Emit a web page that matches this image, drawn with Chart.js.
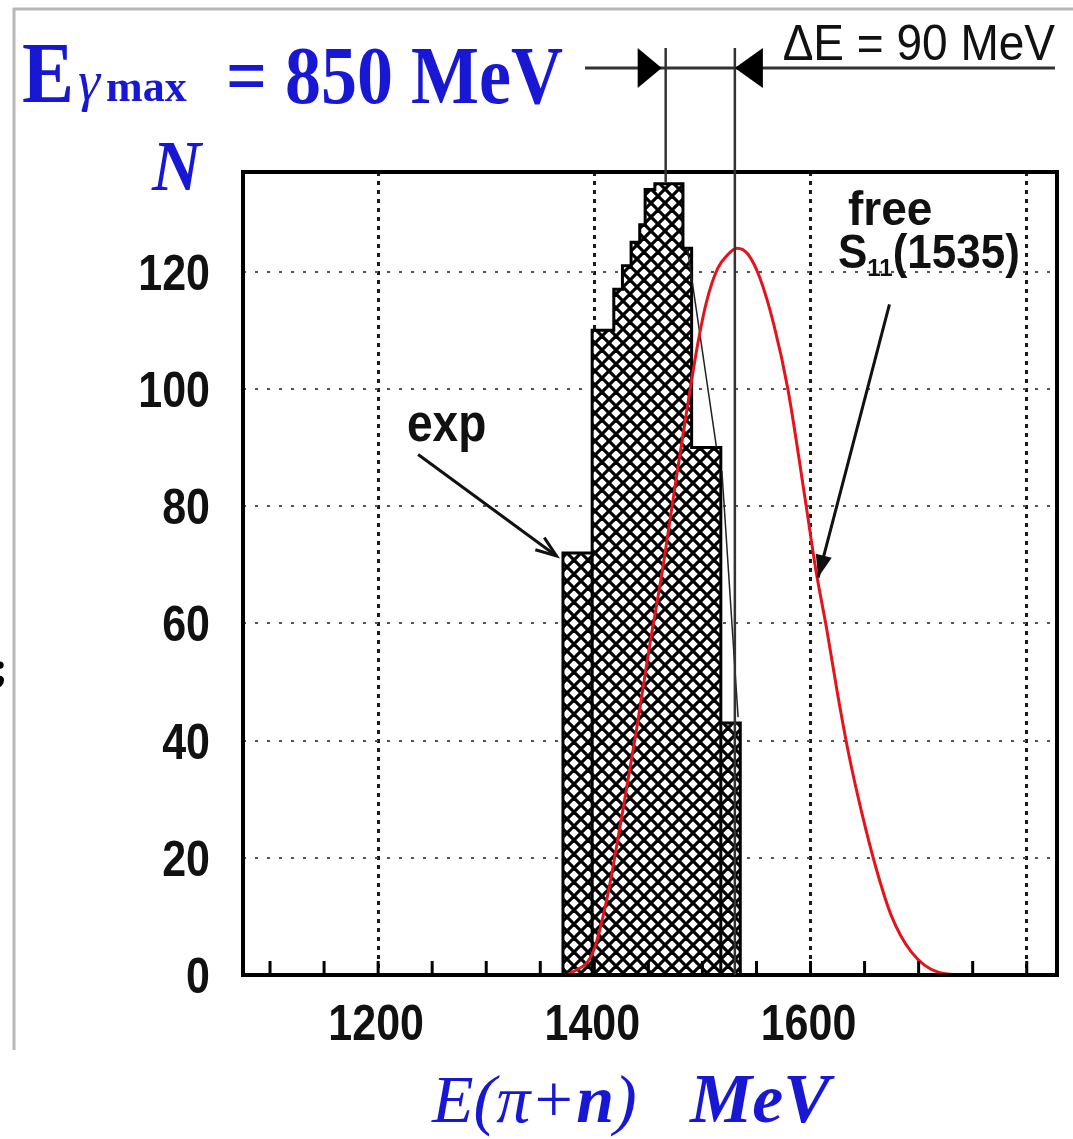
<!DOCTYPE html>
<html>
<head>
<meta charset="utf-8">
<script src="https://cdn.jsdelivr.net/npm/chart.js@4.4.1/dist/chart.umd.min.js"></script>
<style>
html, body { margin: 0; padding: 0; background: #fff; overflow: hidden; }
canvas { display: block; }
</style>
</head>
<body>
<canvas id="graph" width="1073" height="1139"></canvas>
<script>
// measured spectrum (exp): bin edges in MeV and counts per bin
var binEdges = [1371, 1398, 1418, 1426, 1434, 1442, 1447, 1456, 1482, 1490, 1517, 1535];
var expCounts = [72, 110, 117, 121, 125, 128, 134, 135, 124, 90, 43];
// bin edges drawn as full vertical lines inside the hatching
var edgeLines = [1398, 1517];
// thin outline right of the peak
var outlineE = [1486, 1513, 1515, 1518, 1533];
var outlineN = [124, 90, null, 86, 44];
// free S11(1535) curve
var freeE = [1373, 1380, 1399, 1412, 1426, 1439, 1451, 1463, 1476, 1487, 1496, 1504, 1514, 1524, 1532, 1542, 1553, 1566, 1579, 1596, 1605, 1615, 1625, 1635, 1647, 1661, 1675, 1693, 1718, 1745];
var freeN = [0, 0.5, 4, 13.3, 27.7, 41.8, 56, 69, 85, 98, 108, 115, 120.5, 123, 124, 123, 119, 111, 100, 80, 69, 59, 48, 38, 28, 18, 10, 4, 0.5, 0];
// axes
var xGrid = [1200, 1400, 1600, 1800];
var xLabels = ['1200', '1400', '1600'];
var yGrid = [20, 40, 60, 80, 100, 120];
var yLabels = ['0', '20', '40', '60', '80', '100', '120'];
var xMinor = [1100, 1150, 1200, 1250, 1300, 1350, 1400, 1450, 1500, 1550, 1600, 1650, 1700, 1750, 1800];
// ΔE markers
var deltaE = [1466, 1530];

var blue = '#1717d4';

// crosshatch pattern for the histogram
var pc = document.createElement('canvas');
pc.width = pc.height = 14;
var p = pc.getContext('2d');
p.fillStyle = '#fff';
p.fillRect(0, 0, 14, 14);
p.strokeStyle = '#000';
p.lineWidth = 3.2;
[-14, 0, 14].forEach(function(o) {
    p.beginPath(); p.moveTo(o, 0); p.lineTo(o + 14, 14); p.stroke();
    p.beginPath(); p.moveTo(o + 14, 0); p.lineTo(o, 14); p.stroke();
});
var ctx = document.getElementById('graph');
var hatch = ctx.getContext('2d').createPattern(pc, 'repeat');

var histPts = [{x: binEdges[0], y: 0}];
expCounts.forEach(function(n, i) { histPts.push({x: binEdges[i], y: n}); });
histPts.push({x: binEdges[binEdges.length - 1], y: 0});

function txt(c, s, x, y, font, color, align, sy) {
    c.save();
    c.font = font;
    c.fillStyle = color;
    c.textAlign = align || 'left';
    c.textBaseline = 'alphabetic';
    c.translate(x, y);
    c.scale(1, sy || 1);
    c.fillText(s, 0, 0);
    var w = c.measureText(s).width;
    c.restore();
    return w;
}

function arrow(c, x1, y1, x2, y2, head, filled) {
    c.beginPath(); c.moveTo(x1, y1); c.lineTo(x2, y2); c.stroke();
    var a = Math.atan2(y2 - y1, x2 - x1);
    c.beginPath();
    c.moveTo(x2 - head * Math.cos(a - 0.35), y2 - head * Math.sin(a - 0.35));
    c.lineTo(x2, y2);
    c.lineTo(x2 - head * Math.cos(a + 0.35), y2 - head * Math.sin(a + 0.35));
    if (filled) { c.closePath(); c.fill(); } else c.stroke();
}

var deco = {
    id: 'deco',
    afterDatasetDraw: function(chart, args) {
        if (args.index !== 2) return;
        var c = chart.ctx, xs = chart.scales.x, ys = chart.scales.y;
        c.save();
        c.strokeStyle = '#000';
        c.lineWidth = 3;
        edgeLines.forEach(function(e) {
            var i = binEdges.indexOf(e);
            var top = Math.min(expCounts[i - 1], expCounts[i] === undefined ? 0 : expCounts[i]);
            c.beginPath();
            c.moveTo(xs.getPixelForValue(e), ys.getPixelForValue(0));
            c.lineTo(xs.getPixelForValue(e), ys.getPixelForValue(top));
            c.stroke();
        });
        c.restore();
    },
    afterDraw: function(chart) {
        var c = chart.ctx, xs = chart.scales.x, ys = chart.scales.y, a = chart.chartArea;
        c.save();
        // outer page lines
        c.strokeStyle = '#b8b8b8';
        c.lineWidth = 3;
        c.beginPath(); c.moveTo(14, 1050); c.lineTo(14, 9); c.lineTo(1073, 9); c.stroke();
        txt(c, ';', -7, 682, 'bold 44px "Liberation Serif"', '#000');

        // frame and minor ticks
        c.strokeStyle = '#000';
        c.lineWidth = 4;
        c.strokeRect(a.left, a.top, a.right - a.left, a.bottom - a.top);
        c.lineWidth = 3;
        xMinor.forEach(function(v) {
            var px = xs.getPixelForValue(v);
            c.beginPath(); c.moveTo(px, a.bottom); c.lineTo(px, a.bottom - 14); c.stroke();
        });

        // tick labels
        var tf = 'bold 43px "Liberation Sans"';
        yLabels.forEach(function(l) {
            txt(c, l, 210, ys.getPixelForValue(+l) + 18, tf, '#111', 'right', 1.15);
        });
        xLabels.forEach(function(l) {
            txt(c, l, xs.getPixelForValue(+l) - 2, a.bottom + 65, tf, '#111', 'center', 1.15);
        });

        // axis titles
        txt(c, 'N', 152, 190, 'italic bold 68px "Liberation Serif"', blue, 'left', 1.05);
        var x0 = 432, f = '68px "Liberation Serif"';
        x0 += txt(c, 'E(\u03c0+', x0, 1122, 'italic ' + f, blue);
        x0 += txt(c, 'n', x0, 1122, 'italic bold ' + f, blue);
        txt(c, ')', x0, 1122, 'italic ' + f, blue);
        txt(c, 'MeV', 690, 1122, 'italic bold 70px "Liberation Serif"', blue);

        // title E_gamma max
        txt(c, 'E', 22, 102, 'bold 78px "Liberation Serif"', blue, 'left', 1.12);
        txt(c, '\u03b3', 78, 100, 'italic 56px "Liberation Serif"', blue);
        txt(c, 'max', 106, 101, 'bold 44px "Liberation Serif"', blue);
        txt(c, '= 850 MeV', 226, 103, 'bold 72px "Liberation Serif"', blue, 'left', 1.16);

        // delta E marker
        var xa = xs.getPixelForValue(deltaE[0]), xb = xs.getPixelForValue(deltaE[1]);
        c.strokeStyle = '#333';
        c.fillStyle = '#000';
        c.lineWidth = 3;
        c.beginPath(); c.moveTo(585, 68); c.lineTo(1055, 68); c.stroke();
        c.lineWidth = 2.5;
        c.beginPath(); c.moveTo(xa, 48); c.lineTo(xa, a.top + 10); c.stroke();
        c.beginPath(); c.moveTo(xb, 48); c.lineTo(xb, a.bottom); c.stroke();
        c.beginPath(); c.moveTo(xa - 4, 68); c.lineTo(xa - 28, 48); c.lineTo(xa - 28, 88); c.closePath(); c.fill();
        c.beginPath(); c.moveTo(xb, 68); c.lineTo(xb + 28, 48); c.lineTo(xb + 28, 88); c.closePath(); c.fill();
        txt(c, '\u0394E = 90 MeV', 1055, 60, '46px "Liberation Sans"', '#111', 'right', 1.1);

        // labels with arrows
        var lf = 'bold 46px "Liberation Sans"';
        txt(c, 'exp', 407, 441, lf, '#111', 'left', 1.12);
        c.strokeStyle = '#111';
        c.fillStyle = '#111';
        c.lineWidth = 3;
        arrow(c, xs.getPixelForValue(1237), ys.getPixelForValue(88.8), xs.getPixelForValue(1365), ys.getPixelForValue(71.5), 22, false);
        txt(c, 'free', 848, 225, lf, '#111', 'left', 1.05);
        var sx = 838;
        sx += txt(c, 'S', sx, 268, 'bold 44px "Liberation Sans"', '#111', 'left', 1.1);
        sx += txt(c, '11', sx, 276, 'bold 24px "Liberation Sans"', '#111');
        txt(c, '(1535)', sx, 268, 'bold 44px "Liberation Sans"', '#111', 'left', 1.1);
        arrow(c, xs.getPixelForValue(1673), ys.getPixelForValue(114.4), xs.getPixelForValue(1607), ys.getPixelForValue(67.8), 24, true);
        c.restore();
    }
};

var myChart = new Chart(ctx, {
    type: 'line',
    data: {
        datasets: [{
            label: 'free S11(1535)',
            data: freeE.map(function(e, i) { return {x: e, y: freeN[i]}; }),
            borderColor: '#e3141b',
            borderWidth: 3,
            pointRadius: 0,
            cubicInterpolationMode: 'monotone',
            fill: false,
            order: 0
        }, {
            label: 'outline',
            data: outlineE.map(function(e, i) { return {x: e, y: outlineN[i]}; }),
            borderColor: '#222',
            borderWidth: 1.5,
            pointRadius: 0,
            spanGaps: false,
            fill: false,
            order: 1
        }, {
            label: 'exp',
            data: histPts,
            stepped: true,
            borderColor: '#000',
            borderWidth: 3,
            backgroundColor: hatch,
            fill: 'origin',
            pointRadius: 0,
            order: 2
        }]
    },
    options: {
        responsive: false,
        animation: false,
        devicePixelRatio: 1,
        layout: { padding: { left: 243, top: 172, right: 16, bottom: 164 } },
        plugins: { legend: { display: false }, tooltip: { enabled: false } },
        scales: {
            x: {
                type: 'linear', min: 1075, max: 1828,
                afterBuildTicks: function(s) { s.ticks = xGrid.map(function(v) { return {value: v}; }); },
                ticks: { display: false },
                grid: { color: '#1a1a1a', lineWidth: 3, drawTicks: false },
                border: { display: false, dash: [4, 5] }
            },
            y: {
                min: 0, max: 137,
                afterBuildTicks: function(s) { s.ticks = yGrid.map(function(v) { return {value: v}; }); },
                ticks: { display: false },
                grid: { color: '#555', lineWidth: 2, drawTicks: false },
                border: { display: false, dash: [3, 9] }
            }
        }
    },
    plugins: [deco]
});
</script>
</body>
</html>
